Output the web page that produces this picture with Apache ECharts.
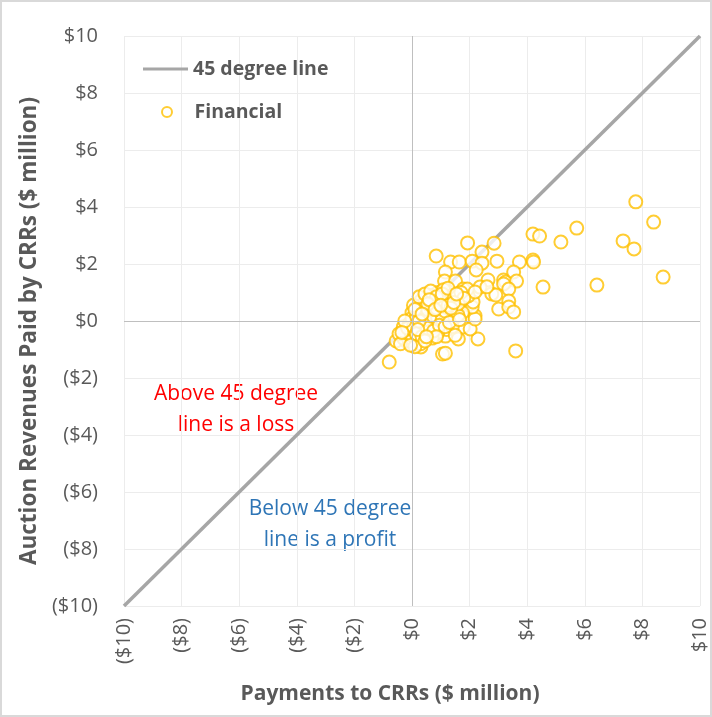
<!DOCTYPE html>
<html>
<head>
<meta charset="utf-8">
<script src="https://cdn.jsdelivr.net/npm/echarts@6/dist/echarts.min.js"></script>
<style>
html,body{margin:0;padding:0;background:#fff;}
#main{width:712px;height:717px;box-sizing:border-box;border:2px solid #d9d9d9;}
</style>
</head>
<body>
<div id="main"></div>
<script>
// axis range / ticks
var axisMin = -10;
var axisMax = 10;
var tickStep = 2;

// 45 degree reference line
var lineData = [[-10, -10], [10, 10]];

// Financial CRRs: [payments to CRRs, auction revenues] ($ million)
var financialOuter = [
	[7.77,4.18],[8.39,3.47],[8.72,1.54],[7.33,2.81],[7.71,2.53],[5.72,3.26],[5.17,2.77],[6.42,1.26],
	[4.2,3.05],[4.43,2.98],[2.85,2.73],[1.93,2.74],[0.84,2.28],[2.43,2.42],[2.95,2.1],[3.73,2.07],
	[4.2,2.14],[4.22,2.07],[1.34,2.07],[1.64,2.07],[2.09,2.1],[2.43,2.03],[2.23,1.79],[1.16,1.72],
	[1.13,1.40],[1.51,1.40],[2.64,1.44],[3.18,1.44],[3.25,1.37],[3.18,1.30],[3.53,1.72],[3.63,1.40],
	[4.55,1.19],[2.36,1.19],[2.77,0.95],[2.91,0.91],[3.36,1.12],[3.36,0.70],[3.01,0.42],[3.36,0.49],
	[3.53,0.32],[3.6,-1.05],[-0.79,-1.44],[2.29,-0.63],[1.61,-0.63],[1.06,-1.16],[1.16,-1.13],[0.31,-0.91],
	[1.16,-0.53],[1.78,-0.21],[2.02,-0.28],[2.19,0.18],[2.19,0.07],[2.09,0.49],[2.12,0.67],[1.95,0.88],
	[1.78,1.12],[1.92,1.12],[2.19,1.02],[2.6,1.2],[-0.55,-0.70],[-0.21,-0.70],[-0.1,-0.46],[0.24,-0.56],
	[0.58,-0.39],[0.78,-0.39],[1.6,0.4],[1.75,0.3],[1.4,0.14]
];
var financialCore = [
	[-0.3,-0.6],[-0.2,-0.4],[-0.1,-0.7],[0,-0.5],[0.1,-0.3],[0.2,-0.6],[0.3,-0.2],[0.4,-0.4],[0.5,-0.1],
	[0.6,-0.3],[0.7,0],[0.8,-0.2],[0.9,0.1],[1.0,-0.1],[1.1,0.2],[1.2,0],[1.3,0.3],[1.4,0.1],[1.5,0.4],
	[-0.3,-0.2],[-0.1,-0.1],[0.1,0],[0.2,0.2],[0.3,0.1],[0.4,0.3],[0.5,0.2],[0.6,0.5],[0.7,0.3],[0.8,0.6],
	[0.9,0.4],[1.0,0.7],[1.1,0.5],[1.2,0.8],[1.3,0.6],[0,0.3],[0.2,0.5],[0.3,0.7],[0.5,0.8],[0.7,0.9],
	[0.9,1.0],[1.1,1.1],[0.4,0.6],[0.6,0.1],[0.8,0.2],[1.0,0.3],[0.2,-0.1],[0.0,0.1],[-0.2,-0.3],[0.4,-0.1],
	[0.6,-0.5],[0.3,-0.8],[0.1,-0.9],[1.2,-0.3],[1.4,-0.2],[1.6,0.2],[1.6,0.6],[1.4,0.9],[1.7,1.0],[1.8,0.8],
	[1.5,-0.5],[0.9,-0.4],[0.7,-0.6],
	[-0.45,-0.45],[-0.4,-0.8],[-0.15,-0.25],[0.05,-0.2],[0.15,0.15],[0.25,0.35],[0.35,0.45],[0.45,0.05],
	[0.55,0.4],[0.65,0.65],[0.75,0.15],[0.85,0.45],[0.95,0.75],[1.05,0.05],[1.15,0.35],[1.25,0.55],
	[1.35,0.45],[1.45,0.65],[0.15,-0.45],[0.35,-0.55],[0.55,-0.25],[0.75,-0.35],[0.95,-0.15],[1.15,-0.2],
	[0.05,0.55],[0.25,0.85],[0.45,0.95],[0.65,1.05],[0.85,0.85],[1.05,0.95],[1.25,1.15],[1.55,0.95],
	[-0.05,-0.85],[0.45,-0.7],[0.85,-0.55],[1.3,-0.05],[1.65,0.05],[0.55,0.6],[0.25,0.0],[-0.25,0.0],
	[0.1,0.4],[0.35,0.25],[0.6,0.75],[0.8,0.4],[1.0,0.55],[0.2,-0.3],[0.5,-0.55],[-0.35,-0.4]
];
var financialData = financialOuter.concat(financialCore);

var grey = '#595959';
var font = '"Open Sans", "Noto Sans", sans-serif';

function money(v){
	if (v < 0) return '($' + Math.abs(v) + ')';
	return '$' + v;
}

window.onload = function(){
	var myChart = echarts.init(document.getElementById('main'));
	myChart.setOption({
		animation: false,
		textStyle: { fontFamily: font },
		grid: { left: 122, right: 2, top: 34, bottom: 109 },
		legend: [{
			orient: 'vertical',
			left: 141,
			top: 57,
			padding: 0,
			itemWidth: 45,
			itemHeight: 3,
			textStyle: { color: grey, fontSize: 19.5, fontWeight: 'bold', fontFamily: font },
			data: [{ name: '45 degree line', icon: 'rect' }]
		},{
			orient: 'vertical',
			left: 159,
			top: 100,
			padding: 0,
			itemWidth: 45,
			itemHeight: 10,
			textStyle: { color: grey, fontSize: 19.5, fontWeight: 'bold', fontFamily: font },
			data: [{ name: 'Financial', icon: 'emptyCircle', itemStyle: { borderWidth: 2 } }]
		}],
		xAxis: {
			type: 'value',
			min: axisMin,
			max: axisMax,
			interval: tickStep,
			name: 'Payments to CRRs ($ million)',
			nameLocation: 'middle',
			nameGap: 78,
			nameTextStyle: { color: grey, fontSize: 21, fontWeight: 'bold', fontFamily: font, padding: [0, 44, 0, 0] },
			axisLine: { show: false, onZero: false },
			axisTick: { show: false },
			splitLine: { lineStyle: { color: '#ececec', width: 1 } },
			axisLabel: { rotate: 90, margin: 12, color: grey, fontSize: 20, formatter: money }
		},
		yAxis: {
			type: 'value',
			min: axisMin,
			max: axisMax,
			interval: tickStep,
			name: 'Auction Revenues Paid by CRRs ($ million)',
			nameLocation: 'middle',
			nameGap: 76,
			nameTextStyle: { color: grey, fontSize: 22.5, fontWeight: 'bold', fontFamily: font, padding: [0, 20, 0, 0] },
			axisLine: { show: false, onZero: false },
			axisTick: { show: false },
			splitLine: { lineStyle: { color: '#ececec', width: 1 } },
			axisLabel: { margin: 26, color: grey, fontSize: 20, formatter: money }
		},
		series: [{
			name: '45 degree line',
			type: 'line',
			data: lineData,
			symbol: 'none',
			z: 2,
			lineStyle: { color: '#a6a6a6', width: 3.5 },
			itemStyle: { color: '#a6a6a6' },
			markLine: {
				silent: true,
				symbol: 'none',
				label: { show: false },
				lineStyle: { color: '#bfbfbf', width: 1, type: 'solid' },
				data: [{ xAxis: 0 }, { yAxis: 0 }]
			}
		},{
			name: 'Financial',
			type: 'scatter',
			data: financialData,
			symbol: 'emptyCircle',
			symbolSize: 13,
			z: 3,
			itemStyle: { color: '#ffc000', borderColor: '#ffc000', borderWidth: 2.8 }
		}],
		graphic: [{
			type: 'text',
			x: 234,
			y: 377,
			style: {
				text: 'Above 45 degree\nline is a loss',
				fill: '#ff0000',
				font: '21px ' + font,
				align: 'center',
				lineHeight: 31
			}
		},{
			type: 'text',
			x: 328,
			y: 492,
			style: {
				text: 'Below 45 degree\nline is a profit',
				fill: '#2e75b6',
				font: '21px ' + font,
				align: 'center',
				lineHeight: 31
			}
		}]
	});
};
</script>
</body>
</html>
